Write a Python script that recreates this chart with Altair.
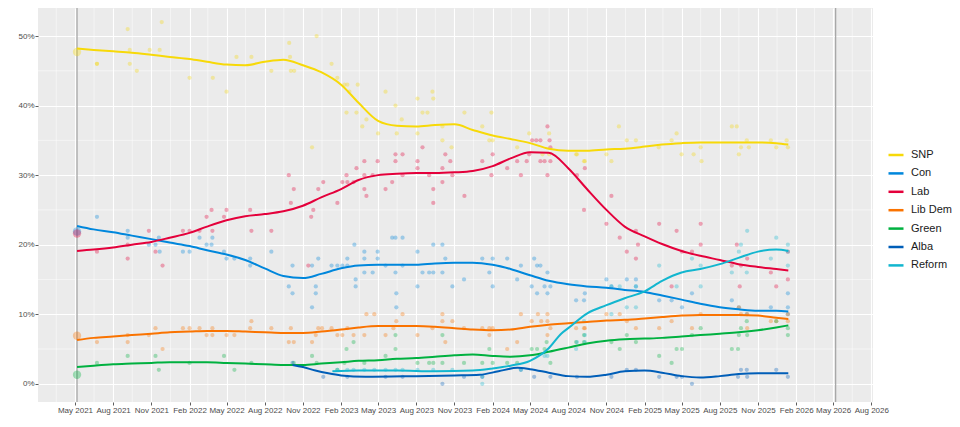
import altair as alt
import pandas as pd

PARTIES = ["SNP", "Con", "Lab", "Lib Dem", "Green", "Alba", "Reform"]
COLOURS = ["#F7D908", "#0087DC", "#E4003B", "#FA7300", "#00B140", "#005EB8", "#12B6CF"]

# 2021 Scottish Parliament election (constituency vote) and the next one
ELECTION_DATES = ["2021-05-06", "2026-05-07"]
RESULT_2021 = [("SNP", 47.7), ("Con", 21.9), ("Lab", 21.6), ("Lib Dem", 6.9), ("Green", 1.3)]

# smoothed trend
TREND_DATES = [
    "2021-05-06", "2021-06-15", "2021-08-01", "2021-09-15", "2021-11-01", "2021-12-15",
    "2022-02-01", "2022-03-15", "2022-05-01", "2022-06-15", "2022-08-01", "2022-09-15",
    "2022-11-01", "2022-12-15", "2023-02-01", "2023-03-15", "2023-05-01", "2023-06-15",
    "2023-08-01", "2023-09-15", "2023-11-01", "2023-12-15", "2024-02-01", "2024-03-15",
    "2024-05-01", "2024-06-15", "2024-08-01", "2024-09-15", "2024-11-01", "2024-12-15",
    "2025-02-01", "2025-03-15", "2025-05-01", "2025-06-15", "2025-08-01", "2025-09-15",
    "2025-11-01", "2025-12-15", "2026-01-13",
]
SNP_TREND = [48.2, 48.0, 47.8, 47.6, 47.3, 47.0, 46.7, 46.3, 45.9, 45.8, 46.3, 46.6, 45.8,
             44.8, 43.0, 40.4, 37.8, 37.1, 37.0, 37.2, 37.3, 36.5, 35.7, 35.2, 34.6, 33.8,
             33.5, 33.5, 33.7, 33.8, 34.1, 34.4, 34.6, 34.7, 34.7, 34.7, 34.7, 34.6, 34.4]
CON_TREND = [22.7, 22.2, 21.8, 21.3, 20.8, 20.3, 19.8, 19.2, 18.6, 17.8, 16.6, 15.5, 15.2,
             15.8, 16.6, 17.0, 17.1, 17.1, 17.1, 17.3, 17.4, 17.4, 17.1, 16.5, 15.6, 14.8,
             14.3, 14.0, 13.8, 13.5, 13.2, 12.7, 12.1, 11.5, 11.0, 10.7, 10.5, 10.5, 10.4]
LAB_TREND = [19.1, 19.3, 19.6, 20.0, 20.4, 21.0, 21.7, 22.6, 23.5, 24.1, 24.4, 24.8, 25.6,
             26.8, 28.0, 29.3, 30.0, 30.2, 30.3, 30.3, 30.4, 30.6, 31.3, 32.4, 33.3, 33.2,
             31.0, 28.0, 25.0, 22.6, 21.2, 20.1, 19.1, 18.4, 17.8, 17.2, 16.8, 16.5, 16.3]
LD_TREND = [6.3, 6.6, 6.8, 7.0, 7.2, 7.4, 7.5, 7.6, 7.6, 7.5, 7.4, 7.3, 7.3,
            7.5, 7.8, 8.1, 8.3, 8.3, 8.3, 8.2, 8.0, 7.8, 7.7, 7.8, 8.2, 8.5,
            8.7, 8.9, 9.1, 9.2, 9.4, 9.6, 9.8, 9.9, 9.9, 9.9, 9.8, 9.5, 9.3]
GREEN_TREND = [2.4, 2.6, 2.8, 2.9, 3.0, 3.1, 3.1, 3.1, 3.0, 2.9, 2.8, 2.7, 2.7,
               2.9, 3.1, 3.3, 3.4, 3.6, 3.7, 3.9, 4.1, 4.2, 4.0, 3.9, 4.1, 4.6,
               5.2, 5.8, 6.2, 6.4, 6.5, 6.6, 6.8, 7.0, 7.2, 7.4, 7.7, 8.1, 8.4]

ALBA_TREND_DATES = [
    "2022-10-07", "2022-11-01", "2022-12-01", "2023-01-01", "2023-02-01", "2023-04-01",
    "2023-08-01", "2023-11-01", "2024-01-01", "2024-02-15", "2024-04-01", "2024-05-01",
    "2024-06-15", "2024-08-01", "2024-09-15", "2024-11-01", "2024-12-15", "2025-02-01",
    "2025-03-15", "2025-05-01", "2025-06-15", "2025-08-01", "2025-09-15", "2025-11-01",
    "2026-01-13",
]
ALBA_TREND = [2.7, 2.4, 1.9, 1.5, 1.2, 1.0, 1.1, 1.2, 1.3, 1.8, 2.3, 2.1, 1.6, 1.1, 1.0,
              1.3, 1.8, 1.9, 1.6, 1.1, 0.9, 1.1, 1.4, 1.5, 1.5]

REFORM_TREND_DATES = [
    "2023-01-11", "2023-03-15", "2023-06-15", "2023-09-15", "2023-12-15", "2024-02-01",
    "2024-03-15", "2024-05-01", "2024-06-15", "2024-07-15", "2024-08-01", "2024-09-15",
    "2024-11-01", "2024-12-15", "2025-02-01", "2025-03-15", "2025-05-01", "2025-06-15",
    "2025-08-01", "2025-09-15", "2025-11-01", "2025-12-15", "2026-01-13",
]
REFORM_TREND = [1.8, 1.9, 1.9, 1.8, 1.9, 2.2, 2.6, 3.3, 5.1, 7.2, 8.0, 10.1, 11.3, 12.3,
                13.3, 14.8, 16.0, 16.5, 17.2, 18.1, 19.0, 19.3, 19.1]

# individual polls (date, %)
SNP_POLLS = [
    ("2021-06-23", 46), ("2021-06-23", 46), ("2021-09-05", 51), ("2021-09-10", 48),
    ("2021-09-10", 46), ("2021-09-27", 45), ("2021-10-28", 48), ("2021-11-21", 48),
    ("2021-11-26", 52), ("2022-02-01", 44), ("2022-03-29", 44), ("2022-05-01", 42),
    ("2022-05-25", 47), ("2022-06-30", 47), ("2022-08-17", 45), ("2022-09-29", 49),
    ("2022-10-01", 47), ("2022-10-03", 45), ("2022-10-11", 45), ("2022-11-23", 34),
    ("2022-12-04", 50), ("2023-01-09", 46), ("2023-01-23", 44), ("2023-02-09", 43),
    ("2023-02-14", 39), ("2023-02-16", 43), ("2023-02-21", 42), ("2023-03-10", 39),
    ("2023-03-13", 43), ("2023-03-24", 37), ("2023-04-03", 38), ("2023-05-01", 36),
    ("2023-05-19", 42), ("2023-06-12", 40), ("2023-06-15", 36), ("2023-06-27", 38),
    ("2023-08-04", 41), ("2023-08-04", 36), ("2023-08-16", 39), ("2023-08-28", 39),
    ("2023-09-09", 42), ("2023-09-11", 41), ("2023-10-03", 37), ("2023-10-03", 35),
    ("2023-10-25", 34), ("2023-11-25", 39), ("2024-01-07", 37), ("2024-01-24", 35),
    ("2024-01-29", 39), ("2024-02-01", 35), ("2024-03-31", 34), ("2024-04-29", 36),
    ("2024-05-31", 33), ("2024-06-16", 36), ("2024-06-16", 33), ("2024-08-20", 33),
    ("2024-08-22", 33), ("2024-09-08", 32), ("2024-09-10", 32), ("2024-11-01", 33),
    ("2024-11-13", 32), ("2024-12-01", 37), ("2024-12-20", 35), ("2025-01-11", 35),
    ("2025-03-07", 34), ("2025-04-07", 35), ("2025-04-19", 36), ("2025-05-01", 33),
    ("2025-05-30", 33), ("2025-06-16", 34), ("2025-06-18", 32), ("2025-08-30", 37),
    ("2025-09-11", 37), ("2025-09-16", 33), ("2025-09-21", 34), ("2025-10-05", 35),
    ("2025-10-10", 34), ("2025-12-02", 35), ("2025-12-15", 34), ("2026-01-09", 35),
    ("2026-01-12", 34),
]
CON_POLLS = [
    ("2021-06-23", 24), ("2021-09-05", 22), ("2021-09-05", 21), ("2021-10-26", 20),
    ("2021-11-11", 20), ("2021-11-19", 21), ("2021-11-21", 19), ("2022-01-16", 19),
    ("2022-02-01", 19), ("2022-02-25", 21), ("2022-03-14", 20), ("2022-03-26", 20),
    ("2022-03-28", 21), ("2022-04-25", 19), ("2022-05-01", 18), ("2022-05-20", 18),
    ("2022-06-27", 18), ("2022-06-27", 17), ("2022-08-17", 19), ("2022-09-28", 14),
    ("2022-10-07", 17), ("2022-10-07", 13), ("2022-11-23", 17), ("2022-11-23", 11),
    ("2022-12-02", 14), ("2022-12-02", 13), ("2022-12-08", 18), ("2023-01-09", 17),
    ("2023-01-23", 17), ("2023-02-04", 17), ("2023-02-16", 18), ("2023-02-16", 17),
    ("2023-03-05", 20), ("2023-03-08", 15), ("2023-03-08", 14), ("2023-03-29", 19),
    ("2023-03-29", 18), ("2023-03-29", 16), ("2023-04-18", 16), ("2023-04-30", 19),
    ("2023-04-30", 18), ("2023-05-19", 17), ("2023-06-04", 21), ("2023-06-12", 21),
    ("2023-06-12", 16), ("2023-06-14", 13), ("2023-06-14", 11), ("2023-06-29", 21),
    ("2023-06-29", 17), ("2023-08-04", 19), ("2023-08-04", 14), ("2023-08-16", 16),
    ("2023-09-01", 16), ("2023-09-11", 20), ("2023-09-11", 16), ("2023-10-03", 20),
    ("2023-10-03", 16), ("2023-10-10", 18), ("2023-10-27", 14), ("2023-11-24", 15),
    ("2024-01-07", 18), ("2024-01-24", 16), ("2024-02-01", 14), ("2024-02-01", 18),
    ("2024-03-07", 18), ("2024-03-31", 15), ("2024-04-09", 17), ("2024-05-05", 14),
    ("2024-05-11", 18), ("2024-05-18", 13), ("2024-05-18", 17), ("2024-05-26", 17),
    ("2024-06-05", 14), ("2024-06-12", 16), ("2024-06-12", 13), ("2024-06-19", 14),
    ("2024-08-20", 12), ("2024-09-08", 12), ("2024-09-10", 13), ("2024-11-01", 15),
    ("2024-11-13", 14), ("2024-12-20", 15), ("2025-01-11", 15), ("2025-01-11", 14),
    ("2025-03-08", 12), ("2025-04-07", 12), ("2025-05-02", 11), ("2025-05-26", 13),
    ("2025-08-30", 12), ("2025-09-16", 11), ("2025-10-05", 10), ("2025-12-02", 11),
    ("2026-01-12", 11), ("2026-01-12", 13), ("2026-01-12", 10),
]
LAB_POLLS = [
    ("2021-06-23", 19), ("2021-09-05", 18), ("2021-09-05", 20), ("2021-10-26", 22),
    ("2021-11-11", 19), ("2021-11-28", 17), ("2022-01-16", 22), ("2022-02-01", 22),
    ("2022-02-25", 22), ("2022-03-14", 24), ("2022-03-26", 25), ("2022-03-28", 22),
    ("2022-04-25", 24), ("2022-05-01", 25), ("2022-06-27", 25), ("2022-06-30", 22),
    ("2022-08-17", 22), ("2022-09-28", 30), ("2022-10-03", 26), ("2022-10-10", 28),
    ("2022-11-14", 17), ("2022-11-21", 24), ("2022-11-26", 25), ("2022-12-08", 28),
    ("2022-12-20", 29), ("2023-01-23", 26), ("2023-02-04", 29), ("2023-02-14", 30),
    ("2023-02-16", 29), ("2023-03-03", 29), ("2023-03-10", 31), ("2023-03-29", 32),
    ("2023-03-29", 30), ("2023-03-29", 28), ("2023-04-03", 27), ("2023-04-18", 30),
    ("2023-04-30", 32), ("2023-05-19", 28), ("2023-06-04", 29), ("2023-06-12", 33),
    ("2023-06-12", 32), ("2023-06-29", 33), ("2023-06-29", 30), ("2023-08-04", 32),
    ("2023-08-04", 31), ("2023-08-16", 34), ("2023-09-01", 30), ("2023-09-11", 28),
    ("2023-09-11", 26), ("2023-10-03", 31), ("2023-10-03", 29), ("2023-10-10", 33),
    ("2023-10-22", 32), ("2023-10-27", 30), ("2023-11-25", 27), ("2024-01-07", 32),
    ("2024-01-29", 30), ("2024-02-01", 33), ("2024-03-07", 31), ("2024-03-31", 32),
    ("2024-04-09", 30), ("2024-04-23", 32), ("2024-04-29", 33), ("2024-05-06", 35),
    ("2024-05-16", 35), ("2024-05-26", 35), ("2024-05-26", 32), ("2024-06-05", 32),
    ("2024-06-12", 37), ("2024-06-12", 30), ("2024-06-17", 35), ("2024-06-19", 34),
    ("2024-06-19", 32), ("2024-08-22", 30), ("2024-09-08", 25), ("2024-09-10", 31),
    ("2024-11-01", 23), ("2024-11-13", 27), ("2024-12-03", 21), ("2024-12-20", 19),
    ("2025-01-11", 22), ("2025-01-11", 18), ("2025-01-16", 20), ("2025-03-08", 23),
    ("2025-04-07", 14), ("2025-04-19", 22), ("2025-05-02", 19), ("2025-05-26", 19),
    ("2025-06-16", 23), ("2025-06-16", 20), ("2025-08-30", 17), ("2025-09-11", 20),
    ("2025-09-18", 14), ("2025-09-21", 17), ("2025-10-06", 18), ("2025-12-02", 16),
    ("2025-12-15", 14), ("2026-01-12", 19), ("2026-01-12", 15),
]
LD_POLLS = [
    ("2021-06-23", 6), ("2021-09-05", 7), ("2021-09-05", 6), ("2021-10-26", 7),
    ("2021-11-11", 8), ("2021-11-28", 5), ("2022-01-16", 8), ("2022-02-01", 8),
    ("2022-02-25", 8), ("2022-03-14", 7), ("2022-03-28", 8), ("2022-03-28", 7),
    ("2022-05-01", 7), ("2022-05-20", 7), ("2022-06-27", 8), ("2022-06-30", 9),
    ("2022-08-17", 8), ("2022-09-28", 6), ("2022-10-03", 8), ("2022-10-10", 6),
    ("2022-11-23", 6), ("2022-12-02", 7), ("2022-12-08", 8), ("2022-12-17", 8),
    ("2023-01-09", 8), ("2023-01-23", 7), ("2023-02-04", 7), ("2023-02-16", 8),
    ("2023-03-03", 7), ("2023-03-29", 7), ("2023-04-03", 10), ("2023-04-22", 10),
    ("2023-05-19", 7), ("2023-06-07", 8), ("2023-06-14", 9), ("2023-06-29", 10),
    ("2023-08-04", 7), ("2023-09-09", 8), ("2023-10-03", 10), ("2023-10-03", 9),
    ("2023-10-10", 6), ("2023-10-27", 9), ("2023-11-24", 8), ("2024-01-07", 8),
    ("2024-01-24", 8), ("2024-01-24", 7), ("2024-02-01", 8), ("2024-03-07", 5),
    ("2024-03-31", 6), ("2024-04-09", 10), ("2024-05-05", 9), ("2024-05-20", 10),
    ("2024-05-28", 9), ("2024-06-12", 10), ("2024-06-12", 9), ("2024-06-12", 7),
    ("2024-06-19", 8), ("2024-08-20", 8), ("2024-09-08", 8), ("2024-09-10", 8),
    ("2024-11-01", 10), ("2024-12-03", 10), ("2024-12-20", 9), ("2025-01-11", 8),
    ("2025-03-08", 8), ("2025-04-07", 9), ("2025-05-26", 8), ("2025-06-16", 10),
    ("2025-09-16", 11), ("2025-09-21", 10), ("2025-10-06", 10), ("2025-10-06", 8),
    ("2025-12-02", 9), ("2025-12-15", 9), ("2026-01-12", 10), ("2026-01-12", 9),
]
GREEN_POLLS = [
    ("2021-06-23", 3), ("2021-09-05", 4), ("2021-11-11", 4), ("2021-11-19", 2),
    ("2022-02-01", 3), ("2022-04-25", 4), ("2022-05-20", 2), ("2022-06-30", 3),
    ("2022-10-10", 3), ("2022-11-23", 4), ("2022-12-04", 3), ("2023-01-23", 2),
    ("2023-02-09", 3), ("2023-02-14", 5), ("2023-03-03", 6), ("2023-03-29", 3),
    ("2023-05-19", 4), ("2023-06-12", 7), ("2023-06-12", 5), ("2023-08-04", 3),
    ("2023-09-01", 3), ("2023-09-11", 3), ("2023-10-03", 3), ("2023-10-03", 7),
    ("2023-11-24", 3), ("2024-01-07", 3), ("2024-01-24", 5), ("2024-02-01", 3),
    ("2024-03-07", 3), ("2024-03-31", 3), ("2024-05-05", 5), ("2024-05-18", 5),
    ("2024-06-05", 5), ("2024-06-10", 6), ("2024-06-19", 3), ("2024-08-20", 6),
    ("2024-09-08", 7), ("2024-09-08", 6), ("2024-11-13", 6), ("2024-12-03", 5),
    ("2024-12-20", 7), ("2025-01-11", 6), ("2025-03-08", 4), ("2025-04-07", 3),
    ("2025-04-19", 5), ("2025-05-02", 5), ("2025-05-26", 7), ("2025-06-16", 8),
    ("2025-08-30", 5), ("2025-09-14", 5), ("2025-09-16", 7), ("2025-09-21", 8),
    ("2025-10-05", 9), ("2025-10-06", 7), ("2025-12-15", 9), ("2026-01-12", 8),
    ("2026-01-12", 7),
]
ALBA_POLLS = [
    ("2022-10-07", 3), ("2022-12-20", 1), ("2023-02-16", 1), ("2023-05-19", 1),
    ("2023-06-29", 1), ("2023-10-03", 0), ("2023-11-24", 1), ("2024-01-07", 1),
    ("2024-04-09", 2), ("2024-05-11", 1), ("2024-06-19", 1), ("2024-08-22", 1),
    ("2024-11-13", 1), ("2024-12-20", 2), ("2025-01-11", 2), ("2025-03-08", 1),
    ("2025-04-19", 1), ("2025-05-02", 1), ("2025-05-26", 0), ("2025-09-14", 1),
    ("2025-09-21", 2), ("2025-10-05", 2), ("2025-10-06", 1), ("2025-12-15", 2),
    ("2026-01-12", 1),
]
REFORM_POLLS = [
    ("2023-01-23", 2), ("2023-02-16", 2), ("2023-03-03", 2), ("2023-03-29", 2),
    ("2023-04-22", 2), ("2023-05-19", 2), ("2023-06-12", 2), ("2023-06-29", 2),
    ("2023-08-04", 2), ("2023-09-11", 2), ("2023-10-27", 2), ("2024-01-07", 1),
    ("2024-01-07", 0), ("2024-04-09", 2), ("2024-06-05", 4), ("2024-06-12", 4),
    ("2024-08-20", 5), ("2024-08-22", 6), ("2024-09-08", 9), ("2024-09-10", 7),
    ("2024-09-10", 6), ("2024-11-13", 10), ("2024-11-13", 14), ("2024-12-03", 14),
    ("2024-12-20", 11), ("2025-01-11", 11), ("2025-01-11", 14), ("2025-03-08", 17),
    ("2025-04-19", 14), ("2025-05-26", 18), ("2025-06-16", 17), ("2025-06-16", 14),
    ("2025-08-30", 16), ("2025-09-16", 19), ("2025-09-21", 20), ("2025-10-05", 16),
    ("2025-10-06", 22), ("2025-12-02", 18), ("2025-12-15", 21), ("2026-01-12", 20),
    ("2026-01-12", 19), ("2026-01-12", 17),
]

Y_TICKS = [0, 10, 20, 30, 40, 50]
Y_MINOR = [5, 15, 25, 35, 45]
X_TICKS = pd.date_range("2021-05-01", "2026-08-01", freq="3MS")

FONT = "Liberation Sans"

# ---- tables ----
poll_lists = [SNP_POLLS, CON_POLLS, LAB_POLLS, LD_POLLS, GREEN_POLLS, ALBA_POLLS, REFORM_POLLS]
polls = pd.DataFrame(
    [(p, d, v) for p, rows in zip(PARTIES, poll_lists) for d, v in rows],
    columns=["party", "date", "pct"],
)

trend_rows = []
for p, vals in zip(PARTIES[:5], [SNP_TREND, CON_TREND, LAB_TREND, LD_TREND, GREEN_TREND]):
    trend_rows += [(p, d, v) for d, v in zip(TREND_DATES, vals)]
trend_rows += [("Alba", d, v) for d, v in zip(ALBA_TREND_DATES, ALBA_TREND)]
trend_rows += [("Reform", d, v) for d, v in zip(REFORM_TREND_DATES, REFORM_TREND)]
trend = pd.DataFrame(trend_rows, columns=["party", "date", "pct"])

result = pd.DataFrame([(p, ELECTION_DATES[0], v) for p, v in RESULT_2021],
                      columns=["party", "date", "pct"])
elections = pd.DataFrame({"date": ELECTION_DATES})

# minor grid halfway between the quarterly ticks
quarters = pd.date_range("2021-02-01", "2026-08-01", freq="3MS")
minor_x = pd.DataFrame({"date": [(a + (b - a) / 2).strftime("%Y-%m-%d")
                                 for a, b in zip(quarters[:-1], quarters[1:])]})
minor_y = pd.DataFrame({"pct": Y_MINOR})


def dt(ts):
    return alt.DateTime(year=ts.year, month=ts.month, date=ts.day, utc=True)


x_scale = alt.Scale(type="utc", domain=[dt(pd.Timestamp("2021-02-01")),
                                        dt(pd.Timestamp("2026-08-05"))])
y_scale = alt.Scale(domain=[-2.62, 54.03], nice=False, zero=False)

x_enc = alt.X("date:T", scale=x_scale, title=None,
              axis=alt.Axis(values=[dt(t) for t in X_TICKS], format="%b %Y",
                            labelFlush=False, labelOverlap=False))
y_enc = alt.Y("pct:Q", scale=y_scale, title=None,
              axis=alt.Axis(values=Y_TICKS, labelExpr="datum.value + '%'"))

colour = alt.Color(
    "party:N",
    scale=alt.Scale(domain=PARTIES, range=COLOURS),
    legend=alt.Legend(
        title=None, orient="none", legendX=849, legendY=138, padding=0,
        symbolType="stroke", symbolSize=225, symbolStrokeWidth=2.5, symbolOpacity=1,
        labelFont=FONT, labelFontSize=11, labelColor="#1A1A1A",
        labelOffset=6, rowPadding=4.4,
    ),
)

grid_h = alt.Chart(minor_y).mark_rule(color="white", strokeWidth=0.5).encode(y=y_enc)
grid_v = alt.Chart(minor_x).mark_rule(color="white", strokeWidth=0.5).encode(x=x_enc)

election_lines = alt.Chart(elections).mark_rule(color="#A8A8A8", strokeWidth=1.3).encode(x=x_enc)

points = alt.Chart(polls).mark_circle(size=18, opacity=0.33).encode(
    x=x_enc, y=y_enc, color=colour
)
result_points = alt.Chart(result).mark_circle(size=70, opacity=0.35).encode(
    x=x_enc, y=y_enc, color=colour
)
lines = alt.Chart(trend).mark_line(strokeWidth=2, interpolate="monotone").encode(
    x=x_enc, y=y_enc, color=colour
)

chart = alt.layer(grid_h, grid_v, election_lines, points, result_points, lines).properties(
    width=835,
    height=394,
    autosize=alt.AutoSizeParams(type="none"),
    padding={"left": 30, "top": 0, "right": 79, "bottom": 16},
).configure_view(
    fill="#EBEBEB", stroke=None
).configure_axis(
    grid=True, gridColor="white", gridWidth=1.1, domain=False,
    tickColor="#333333", tickSize=3, tickWidth=0.8,
    labelFont=FONT, labelFontSize=8, labelColor="#4D4D4D", labelPadding=1,
)

chart.save("out.html", embed_options={"renderer": "svg", "actions": False})
